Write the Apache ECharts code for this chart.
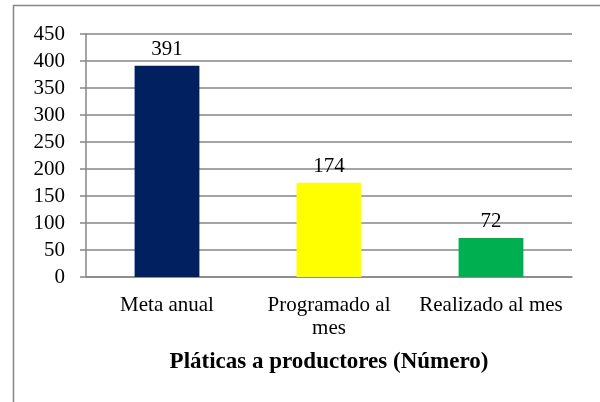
<!DOCTYPE html>
<html>
<head>
<meta charset="utf-8">
<script src="https://cdn.jsdelivr.net/npm/echarts@6/dist/echarts.min.js"></script>
<style>
  html, body { margin: 0; padding: 0; background: #fff; }
  #chart { width: 600px; height: 402px; }
</style>
</head>
<body>
<div id="chart"></div>
<script>
var categories = ["Meta anual", "Programado al\nmes", "Realizado al mes"];
var values = [391, 174, 72];
var barColors = ["#002060", "#FFFF00", "#00B050"];
var yTicks = [0, 50, 100, 150, 200, 250, 300, 350, 400, 450];
var chartTitle = "Pláticas a productores (Número)";

var chart = echarts.init(document.getElementById("chart"));
var font = "Liberation Serif";

chart.setOption({
  animation: false,
  backgroundColor: "#fff",
  graphic: [
    {
      type: "rect",
      shape: { x: 13.5, y: 5.5, width: 620, height: 420 },
      style: { fill: null, stroke: "#868686", lineWidth: 1.5 }
    },
    {
      type: "text",
      x: 329,
      y: 362,
      style: {
        text: chartTitle,
        align: "center",
        verticalAlign: "middle",
        fill: "#000",
        font: "bold 23px 'Liberation Serif'"
      }
    }
  ],
  grid: { left: 86, right: 28, top: 34, bottom: 125 },
  xAxis: {
    type: "category",
    data: categories,
    axisLine: { lineStyle: { color: "#868686", width: 1.5 } },
    axisTick: { show: false },
    axisLabel: {
      color: "#000",
      fontFamily: font,
      fontSize: 21,
      lineHeight: 23,
      margin: 17,
      interval: 0
    }
  },
  yAxis: {
    type: "value",
    min: yTicks[0],
    max: yTicks[yTicks.length - 1],
    interval: 50,
    axisLine: { show: true, lineStyle: { color: "#868686", width: 1.5 } },
    axisTick: { show: true, length: 6, lineStyle: { color: "#868686", width: 1.5 } },
    splitLine: { lineStyle: { color: "#868686", width: 1.5 } },
    axisLabel: { color: "#000", fontFamily: font, fontSize: 21, margin: 21 }
  },
  series: [
    {
      type: "bar",
      barWidth: "40%",
      data: values.map(function (v, i) {
        return { value: v, itemStyle: { color: barColors[i] } };
      }),
      label: {
        show: true,
        position: "top",
        distance: 6,
        color: "#000",
        fontFamily: font,
        fontSize: 21
      }
    }
  ]
});
</script>
</body>
</html>
